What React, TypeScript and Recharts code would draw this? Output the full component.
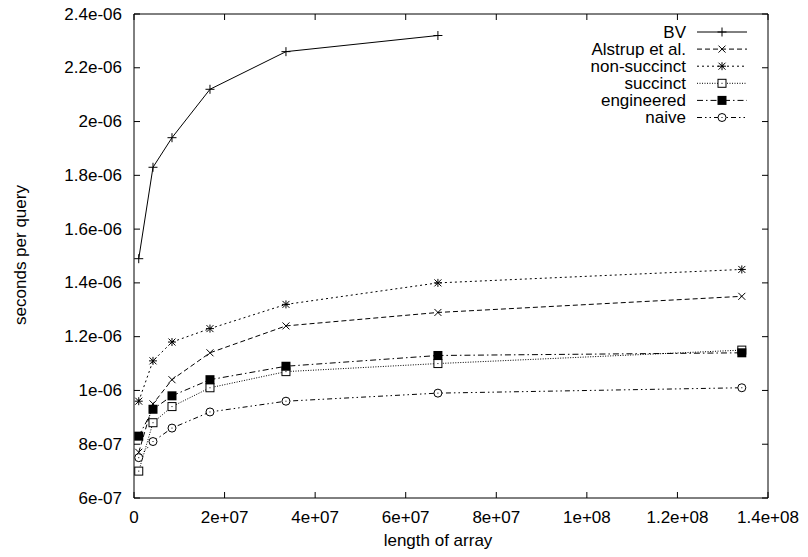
import { LineChart, Line, XAxis, YAxis, ReferenceArea } from 'recharts';

const lengths = [1048576, 4194304, 8388608, 16777216, 33554432, 67108864, 134217728];
const bv = [1.49e-6, 1.83e-6, 1.94e-6, 2.12e-6, 2.26e-6, 2.32e-6];
const alstrup = [0.77e-6, 0.95e-6, 1.04e-6, 1.14e-6, 1.24e-6, 1.29e-6, 1.35e-6];
const nonSuccinct = [0.96e-6, 1.11e-6, 1.18e-6, 1.23e-6, 1.32e-6, 1.4e-6, 1.45e-6];
const succinct = [0.7e-6, 0.88e-6, 0.94e-6, 1.01e-6, 1.07e-6, 1.1e-6, 1.15e-6];
const engineered = [0.83e-6, 0.93e-6, 0.98e-6, 1.04e-6, 1.09e-6, 1.13e-6, 1.14e-6];
const naive = [0.75e-6, 0.81e-6, 0.86e-6, 0.92e-6, 0.96e-6, 0.99e-6, 1.01e-6];

const xTicks = [0, 2e7, 4e7, 6e7, 8e7, 1e8, 1.2e8, 1.4e8];
const yTicks = [6e-7, 8e-7, 1e-6, 1.2e-6, 1.4e-6, 1.6e-6, 1.8e-6, 2e-6, 2.2e-6, 2.4e-6];

const data = lengths.map((x, i) => ({
    x,
    bv: bv[i],
    alstrup: alstrup[i],
    nonSuccinct: nonSuccinct[i],
    succinct: succinct[i],
    engineered: engineered[i],
    naive: naive[i],
}));

const series = [
    { key: 'bv', name: 'BV', dash: undefined, marker: 'plus' },
    { key: 'alstrup', name: 'Alstrup et al.', dash: '5 3', marker: 'cross' },
    { key: 'nonSuccinct', name: 'non-succinct', dash: '2 3', marker: 'star' },
    { key: 'succinct', name: 'succinct', dash: '1 1.5', marker: 'box' },
    { key: 'engineered', name: 'engineered', dash: '6 3 1.5 3', marker: 'fbox' },
    { key: 'naive', name: 'naive', dash: '5 3 1.5 3 1.5 3', marker: 'circle' },
];

const W = 808;
const H = 557;
const Y_W = 134;
const X_H = 59;
const RIGHT = 40;
const TOP = 14;
const PLOT_L = Y_W;
const PLOT_R = W - RIGHT;
const PLOT_T = TOP;
const PLOT_B = H - X_H;
const FONT = '"Liberation Sans", Arial, sans-serif';
const FS = 17;

// gnuplot-style %g labels: 2.4e-06, 1e+08
const fmt = (v: number) => {
    if (v === 0) return '0';
    const s = Number(v.toPrecision(6)).toExponential();
    return s.replace(/e([+-])(\d)$/, 'e$10$2');
};

const Marker = ({ kind, cx, cy }: { kind: string; cx: number; cy: number }) => {
    const st = { stroke: '#000', strokeWidth: 1, fill: 'none' };
    if (kind === 'plus')
        return (
            <g {...st}>
                <line x1={cx - 4.5} y1={cy} x2={cx + 4.5} y2={cy} />
                <line x1={cx} y1={cy - 4.5} x2={cx} y2={cy + 4.5} />
            </g>
        );
    if (kind === 'cross')
        return (
            <g {...st}>
                <line x1={cx - 3.5} y1={cy - 3.5} x2={cx + 3.5} y2={cy + 3.5} />
                <line x1={cx - 3.5} y1={cy + 3.5} x2={cx + 3.5} y2={cy - 3.5} />
            </g>
        );
    if (kind === 'star')
        return (
            <g {...st}>
                <line x1={cx - 4} y1={cy} x2={cx + 4} y2={cy} />
                <line x1={cx} y1={cy - 4} x2={cx} y2={cy + 4} />
                <line x1={cx - 3.5} y1={cy - 3.5} x2={cx + 3.5} y2={cy + 3.5} />
                <line x1={cx - 3.5} y1={cy + 3.5} x2={cx + 3.5} y2={cy - 3.5} />
            </g>
        );
    if (kind === 'box')
        return (
            <g>
                <rect x={cx - 4} y={cy - 4} width={8} height={8} fill="#fff" stroke="#000" />
                <rect x={cx - 0.5} y={cy - 0.5} width={1} height={1} fill="#000" />
            </g>
        );
    if (kind === 'fbox') return <rect x={cx - 4.5} y={cy - 4.5} width={9} height={9} fill="#000" />;
    return (
        <g>
            <circle cx={cx} cy={cy} r={4} fill="#fff" stroke="#000" />
            <rect x={cx - 0.5} y={cy - 0.5} width={1} height={1} fill="#000" />
        </g>
    );
};

// ticks point inwards on both sides, like gnuplot's mirrored border ticks
const YTick = ({ y, payload }: any) => (
    <g>
        <text x={Y_W - 12} y={y} textAnchor="end" dominantBaseline="central" fontFamily={FONT} fontSize={FS} fill="#000">
            {fmt(payload.value)}
        </text>
        <line x1={PLOT_L} y1={y} x2={PLOT_L + 6} y2={y} stroke="#000" />
        <line x1={PLOT_R} y1={y} x2={PLOT_R - 6} y2={y} stroke="#000" />
    </g>
);

const XTick = ({ x, payload }: any) => (
    <g>
        <text x={x} y={PLOT_B + 19} textAnchor="middle" dominantBaseline="central" fontFamily={FONT} fontSize={FS} fill="#000">
            {fmt(payload.value)}
        </text>
        <line x1={x} y1={PLOT_B} x2={x} y2={PLOT_B - 6} stroke="#000" />
        <line x1={x} y1={PLOT_T} x2={x} y2={PLOT_T + 6} stroke="#000" />
    </g>
);

const LegendBox = () => (
    <svg width={W} height={H} style={{ position: 'absolute', left: 0, top: 0, pointerEvents: 'none' }}>
        {series.map((s, i) => {
            const y = 32 + i * 17.1;
            return (
                <g key={s.key}>
                    <text x={686} y={y} textAnchor="end" dominantBaseline="central" fontFamily={FONT} fontSize={FS} fill="#000">
                        {s.name}
                    </text>
                    <line x1={697} y1={y} x2={747} y2={y} stroke="#000" strokeDasharray={s.dash} />
                    <Marker kind={s.marker} cx={722} cy={y} />
                </g>
            );
        })}
    </svg>
);

export default function App() {
    return (
        <div style={{ position: 'absolute', left: 0, top: 0, width: W, height: H, background: '#fff' }}>
            <LineChart width={W} height={H} data={data} margin={{ top: TOP, right: RIGHT, bottom: 0, left: 0 }}>
                <XAxis
                    dataKey="x"
                    type="number"
                    domain={[0, 1.4e8]}
                    ticks={xTicks}
                    height={X_H}
                    axisLine={false}
                    tickLine={false}
                    tick={<XTick />}
                    interval={0}
                    allowDataOverflow
                />
                <YAxis
                    type="number"
                    domain={[6e-7, 2.4e-6]}
                    ticks={yTicks}
                    width={Y_W}
                    axisLine={false}
                    tickLine={false}
                    tick={<YTick />}
                    interval={0}
                    allowDataOverflow
                />
                <ReferenceArea x1={0} x2={1.4e8} y1={6e-7} y2={2.4e-6} fill="none" stroke="#000" strokeWidth={1} />
                {series.map((s) => (
                    <Line
                        key={s.key}
                        dataKey={s.key}
                        stroke="#000"
                        strokeWidth={1}
                        strokeDasharray={s.dash}
                        isAnimationActive={false}
                        dot={(p: any) =>
                            p.cx == null || p.cy == null || p.value == null ? (
                                <g key={p.key ?? p.index} />
                            ) : (
                                <g key={p.key ?? p.index}>
                                    <Marker kind={s.marker} cx={p.cx} cy={p.cy} />
                                </g>
                            )
                        }
                        activeDot={false}
                    />
                ))}
                <text x={438} y={540} textAnchor="middle" dominantBaseline="central" fontFamily={FONT} fontSize={FS} fill="#000">
                    length of array
                </text>
                <text
                    x={20}
                    y={255}
                    transform="rotate(-90 20 255)"
                    textAnchor="middle"
                    dominantBaseline="central"
                    fontFamily={FONT}
                    fontSize={FS}
                    fill="#000"
                >
                    seconds per query
                </text>
            </LineChart>
            <LegendBox />
        </div>
    );
}
